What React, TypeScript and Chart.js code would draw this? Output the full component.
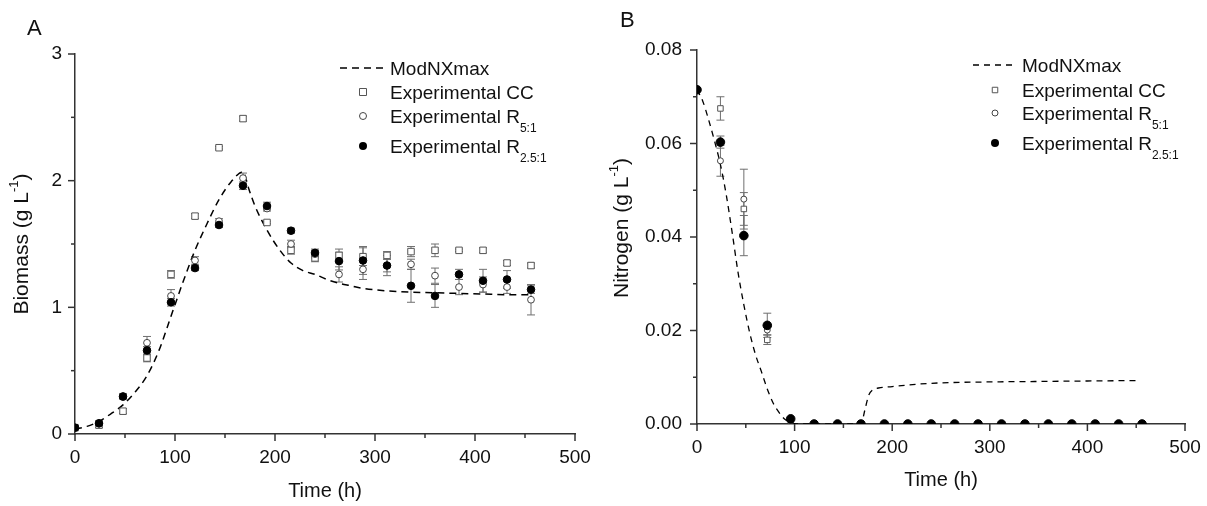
import React, { useEffect, useRef } from 'react';
import { Chart, registerables } from 'chart.js';
Chart.register(...registerables);

const FONT = '"Liberation Sans", Arial, Helvetica, sans-serif';

// ---------- Panel A (Biomass) ----------
const timesA = [0, 24, 48, 72, 96, 120, 144, 168, 192, 216, 240, 264, 288, 312, 336, 360, 384, 408, 432, 456];
const ccA = [0.05, 0.07, 0.18, 0.6, 1.26, 1.72, 2.26, 2.49, 1.67, 1.45, 1.39, 1.41, 1.4, 1.41, 1.44, 1.45, 1.45, 1.45, 1.35, 1.33];
const ccAErr = [0.01, 0.02, 0.02, 0.03, 0.03, 0.02, 0.01, 0.02, 0.01, 0.03, 0.03, 0.05, 0.07, 0.03, 0.04, 0.05, 0.01, 0.02, 0.02, 0.02];
const r5A = [0.05, 0.08, 0.3, 0.72, 1.09, 1.37, 1.68, 2.02, 1.78, 1.5, 1.42, 1.26, 1.3, 1.33, 1.34, 1.25, 1.16, 1.18, 1.16, 1.06];
const r5AErr = [0.01, 0.01, 0.02, 0.05, 0.05, 0.03, 0.02, 0.04, 0.02, 0.03, 0.03, 0.06, 0.08, 0.05, 0.04, 0.06, 0.06, 0.06, 0.05, 0.12];
const r25A = [0.05, 0.085, 0.295, 0.66, 1.04, 1.31, 1.65, 1.96, 1.8, 1.605, 1.43, 1.365, 1.37, 1.33, 1.17, 1.09, 1.26, 1.21, 1.22, 1.14];
const r25AErr = [0.01, 0.02, 0.02, 0.03, 0.03, 0.02, 0.02, 0.03, 0.03, 0.02, 0.03, 0.07, 0.11, 0.08, 0.13, 0.09, 0.04, 0.09, 0.07, 0.03];
const modelTimesA = [0, 12, 24, 36, 48, 60, 72, 84, 96, 108, 120, 132, 144, 156, 168, 174, 180, 192, 204, 216, 228, 240, 252, 264, 276, 288, 312, 336, 360, 384, 408, 432, 456];
const modelA = [0.04, 0.06, 0.1, 0.16, 0.23, 0.33, 0.46, 0.66, 0.93, 1.2, 1.45, 1.66, 1.85, 1.99, 2.07, 1.93, 1.8, 1.61, 1.46, 1.35, 1.29, 1.26, 1.22, 1.19, 1.17, 1.15, 1.13, 1.12, 1.115, 1.11, 1.105, 1.1, 1.1];
const yTicksA = [0, 1, 2, 3];

// ---------- Panel B (Nitrogen) ----------
const timesB = [0, 24, 48, 72, 96, 120, 144, 168, 192, 216, 240, 264, 288, 312, 336, 360, 384, 408, 432, 456];
const ccB = [0.0715, 0.0675, 0.046, 0.018, 0.0008, 0, 0, 0, 0, 0, 0, 0, 0, 0, 0, 0, 0, 0, 0, 0];
const ccBErr = [0, 0.0025, 0.0035, 0.001, 0, 0, 0, 0, 0, 0, 0, 0, 0, 0, 0, 0, 0, 0, 0, 0];
const r5B = [0.0715, 0.0563, 0.0481, 0.0201, 0.0008, 0, 0, 0, 0, 0, 0, 0, 0, 0, 0, 0, 0, 0, 0, 0];
const r5BErr = [0, 0.0033, 0.0064, 0.001, 0, 0, 0, 0, 0, 0, 0, 0, 0, 0, 0, 0, 0, 0, 0, 0];
const r25B = [0.0715, 0.0603, 0.0403, 0.0211, 0.0011, 0, 0, 0, 0, 0, 0, 0, 0, 0, 0, 0, 0, 0, 0, 0];
const r25BErr = [0, 0.0013, 0.0043, 0.0026, 0, 0, 0, 0, 0, 0, 0, 0, 0, 0, 0, 0, 0, 0, 0, 0];
const modelTimesB = [0, 6, 12, 18, 24, 30, 36, 42, 48, 54, 60, 66, 72, 78, 84, 90, 96, 102, 120, 150, 168, 172, 176, 180, 186, 200, 225, 250, 300, 350, 400, 450];
const modelB = [0.0715, 0.069, 0.065, 0.0605, 0.0555, 0.049, 0.041, 0.0325, 0.0255, 0.0195, 0.0148, 0.0112, 0.0075, 0.0045, 0.0025, 0.001, 0.0003, 0, 0, 0, 0, 0.003, 0.0062, 0.0073, 0.0077, 0.008, 0.0085, 0.0088, 0.009, 0.0091, 0.0092, 0.0093];
const yTicksB = [0, 0.02, 0.04, 0.06, 0.08];

const xTicks = [0, 100, 200, 300, 400, 500];

const legendLabels = ['ModNXmax', 'Experimental CC', 'Experimental R', 'Experimental R'];
const legendSubs = ['', '', '5:1', '2.5:1'];

type Part = { t: string; size: number; dy?: number };

function drawRich(ctx: CanvasRenderingContext2D, x: number, y: number, parts: Part[]) {
  let cx = x;
  for (const p of parts) {
    ctx.font = `${p.size}px ${FONT}`;
    ctx.fillText(p.t, cx, y + (p.dy || 0));
    cx += ctx.measureText(p.t).width;
  }
}
function richWidth(ctx: CanvasRenderingContext2D, parts: Part[]) {
  let w = 0;
  for (const p of parts) {
    ctx.font = `${p.size}px ${FONT}`;
    w += ctx.measureText(p.t).width;
  }
  return w;
}

function drawMarker(ctx: CanvasRenderingContext2D, kind: string, x: number, y: number, s: number) {
  ctx.save();
  ctx.lineWidth = 1;
  ctx.setLineDash([]);
  if (kind === 'rect') {
    ctx.fillStyle = '#fff';
    ctx.strokeStyle = '#555';
    ctx.beginPath();
    ctx.rect(x - s / 2, y - s / 2, s, s);
    ctx.fill();
    ctx.stroke();
  } else if (kind === 'open') {
    ctx.fillStyle = '#fff';
    ctx.strokeStyle = '#444';
    ctx.beginPath();
    ctx.arc(x, y, s, 0, Math.PI * 2);
    ctx.fill();
    ctx.stroke();
  } else {
    ctx.fillStyle = '#000';
    ctx.beginPath();
    ctx.arc(x, y, s, 0, Math.PI * 2);
    ctx.fill();
  }
  ctx.restore();
}

const decorPlugin = {
  id: 'decor',
  beforeDatasetsDraw(chart: any, _args: any, opts: any) {
    const ctx = chart.ctx as CanvasRenderingContext2D;
    const xs = chart.scales.x;
    const ys = chart.scales.y;
    const a = chart.chartArea;
    ctx.save();
    ctx.beginPath();
    ctx.rect(a.left, a.top, a.right - a.left, a.bottom - a.top);
    ctx.clip();
    ctx.strokeStyle = '#6f6f6f';
    ctx.lineWidth = 1;
    chart.data.datasets.forEach((ds: any) => {
      if (!ds.errors) return;
      ds.data.forEach((pt: any, j: number) => {
        const e = ds.errors[j];
        if (!e) return;
        const px = xs.getPixelForValue(pt.x);
        const yt = ys.getPixelForValue(pt.y + e);
        const yb = ys.getPixelForValue(pt.y - e);
        const cw = opts.cap;
        ctx.beginPath();
        ctx.moveTo(px, yt);
        ctx.lineTo(px, yb);
        ctx.moveTo(px - cw, yt);
        ctx.lineTo(px + cw, yt);
        ctx.moveTo(px - cw, yb);
        ctx.lineTo(px + cw, yb);
        ctx.stroke();
      });
    });
    ctx.restore();
  },
  afterDraw(chart: any, _args: any, opts: any) {
    const ctx = chart.ctx as CanvasRenderingContext2D;
    const xs = chart.scales.x;
    const ys = chart.scales.y;
    const a = chart.chartArea;
    ctx.save();
    // tick marks
    ctx.strokeStyle = '#333';
    ctx.lineWidth = 1.5;
    xs.ticks.forEach((t: any) => {
      const px = xs.getPixelForValue(t.value);
      const len = t.label !== '' ? 7 : 4;
      ctx.beginPath();
      ctx.moveTo(px, a.bottom);
      ctx.lineTo(px, a.bottom + len);
      ctx.stroke();
    });
    ys.ticks.forEach((t: any) => {
      const py = ys.getPixelForValue(t.value);
      const len = t.label !== '' ? 7 : 4;
      ctx.beginPath();
      ctx.moveTo(a.left, py);
      ctx.lineTo(a.left - len, py);
      ctx.stroke();
    });

    ctx.fillStyle = '#111';
    ctx.textAlign = 'left';
    ctx.textBaseline = 'alphabetic';
    // panel letter
    ctx.font = `22px ${FONT}`;
    ctx.fillText(opts.letter, opts.letterX, opts.letterY);

    // x title
    const xt: Part[] = [{ t: 'Time (h)', size: 20 }];
    const xw = richWidth(ctx, xt);
    drawRich(ctx, (a.left + a.right) / 2 - xw / 2, opts.xTitleY, xt);

    // y title
    const yt: Part[] = [
      { t: opts.yTitle + ' (g L', size: 21 },
      { t: '-1', size: 13, dy: -10 },
      { t: ')', size: 21 },
    ];
    const yw = richWidth(ctx, yt);
    ctx.save();
    ctx.translate(opts.yTitleX, opts.yTitleY);
    ctx.rotate(-Math.PI / 2);
    drawRich(ctx, -yw / 2, 0, yt);
    ctx.restore();

    // legend
    const L = opts.legend;
    ctx.save();
    ctx.strokeStyle = '#000';
    ctx.lineWidth = L.lw;
    ctx.setLineDash(L.dash);
    ctx.beginPath();
    ctx.moveTo(L.lineFrom, L.rows[0]);
    ctx.lineTo(L.lineTo, L.rows[0]);
    ctx.stroke();
    ctx.restore();
    drawMarker(ctx, 'rect', L.symX, L.rows[1], L.sq);
    drawMarker(ctx, 'open', L.symX, L.rows[2], L.oc);
    drawMarker(ctx, 'fill', L.symX, L.rows[3], L.fc);
    ctx.fillStyle = '#111';
    legendLabels.forEach((lab, i) => {
      const parts: Part[] = [{ t: lab, size: 19 }];
      if (legendSubs[i]) parts.push({ t: legendSubs[i], size: 12, dy: 8.5 });
      drawRich(ctx, L.textX, L.rows[i] + 7, parts);
    });
    ctx.restore();
  },
};

function pts(xs: number[], ys: number[]) {
  return xs.map((x, i) => ({ x, y: ys[i] }));
}

function makeConfig(p: any): any {
  return {
    type: 'scatter',
    data: {
      datasets: [
        {
          label: 'Experimental R2.5:1',
          data: pts(p.times, p.r25),
          errors: p.r25Err,
          pointStyle: 'circle',
          pointRadius: p.fc,
          backgroundColor: '#000',
          borderColor: '#000',
          borderWidth: 1,
          clip: 0,
        },
        {
          label: 'Experimental R5:1',
          data: pts(p.times, p.r5),
          errors: p.r5Err,
          pointStyle: 'circle',
          pointRadius: p.oc,
          backgroundColor: '#fff',
          borderColor: '#444',
          borderWidth: 1,
          clip: 0,
        },
        {
          label: 'Experimental CC',
          data: pts(p.times, p.cc),
          errors: p.ccErr,
          pointStyle: 'rect',
          pointRadius: p.sq / Math.SQRT2,
          backgroundColor: '#fff',
          borderColor: '#555',
          borderWidth: 1,
          clip: 0,
        },
        {
          label: 'ModNXmax',
          data: pts(p.modelTimes, p.model),
          showLine: true,
          pointRadius: 0,
          borderColor: '#000',
          borderWidth: p.lw,
          borderDash: p.dash,
          cubicInterpolationMode: 'monotone',
          clip: 0,
        },
      ],
    },
    options: {
      responsive: false,
      animation: false,
      devicePixelRatio: 1,
      events: [],
      layout: { padding: { left: 0, top: p.top, right: p.right, bottom: 0 } },
      plugins: {
        legend: { display: false },
        tooltip: { enabled: false },
        decor: p.decor,
      },
      scales: {
        x: {
          type: 'linear',
          min: 0,
          max: 500,
          afterFit: (s: any) => {
            s.height = p.xH;
          },
          grid: { display: false, drawTicks: true, tickLength: 8 },
          border: { display: true, color: '#333', width: 1.5 },
          ticks: {
            stepSize: 50,
            autoSkip: false,
            maxRotation: 0,
            padding: 4,
            color: '#111',
            font: { size: 19, family: FONT },
            callback: (v: number) => (xTicks.includes(Math.round(v)) && Math.abs(v % 100) < 1e-6 ? String(v) : ''),
          },
        },
        y: {
          type: 'linear',
          min: 0,
          max: p.yMax,
          afterFit: (s: any) => {
            s.width = p.yW;
          },
          grid: { display: false, drawTicks: true, tickLength: 8 },
          border: { display: true, color: '#333', width: 1.5 },
          ticks: {
            stepSize: p.yStep,
            autoSkip: false,
            padding: p.yPad,
            color: '#111',
            font: { size: 19, family: FONT },
            callback: (v: number) => {
              const hit = p.yTicks.find((t: number) => Math.abs(t - v) < 1e-9);
              return hit === undefined ? '' : hit.toFixed(p.yDec);
            },
          },
        },
      },
    },
    plugins: [decorPlugin],
  };
}

const cfgA = {
  times: timesA, cc: ccA, ccErr: ccAErr, r5: r5A, r5Err: r5AErr, r25: r25A, r25Err: r25AErr,
  modelTimes: modelTimesA, model: modelA,
  fc: 3.8, oc: 3.4, sq: 6.5, lw: 1.5, dash: [7, 5],
  top: 54, right: 25, xH: 72, yW: 75, yMax: 3, yStep: 0.5, yTicks: yTicksA, yDec: 0, yPad: 5,
  decor: {
    cap: 4,
    letter: 'A', letterX: 27, letterY: 35,
    yTitle: 'Biomass', yTitleX: 28, yTitleY: 244,
    xTitleY: 497,
    legend: { lineFrom: 340, lineTo: 386, symX: 363, textX: 390, rows: [68, 92, 116, 146], lw: 1.5, dash: [7, 5], sq: 7, oc: 3.5, fc: 4 },
  },
};

const cfgB = {
  times: timesB, cc: ccB, ccErr: ccBErr, r5: r5B, r5Err: r5BErr, r25: r25B, r25Err: r25BErr,
  modelTimes: modelTimesB, model: modelB,
  fc: 4.3, oc: 3, sq: 5.5, lw: 1.3, dash: [6, 5],
  top: 50, right: 22, xH: 82, yW: 97, yMax: 0.08, yStep: 0.01, yTicks: yTicksB, yDec: 2, yPad: 7,
  decor: {
    cap: 4,
    letter: 'B', letterX: 20, letterY: 27,
    yTitle: 'Nitrogen', yTitleX: 28, yTitleY: 228,
    xTitleY: 486,
    legend: { lineFrom: 373, lineTo: 417, symX: 395, textX: 422, rows: [65, 90, 113, 143], lw: 1.3, dash: [6, 5], sq: 5.5, oc: 3, fc: 4 },
  },
};

function Panel({ cfg, left, width }: { cfg: any; left: number; width: number }) {
  const ref = useRef<HTMLCanvasElement | null>(null);
  useEffect(() => {
    if (!ref.current) return;
    const chart = new Chart(ref.current, makeConfig(cfg));
    return () => chart.destroy();
  }, [cfg]);
  return (
    <canvas
      ref={ref}
      width={width}
      height={506}
      style={{ position: 'absolute', left, top: 0, width, height: 506 }}
    />
  );
}

export default function App() {
  return (
    <div style={{ position: 'absolute', left: 0, top: 0, width: 1207, height: 506, background: '#fff' }}>
      <Panel cfg={cfgA} left={0} width={600} />
      <Panel cfg={cfgB} left={600} width={607} />
    </div>
  );
}
